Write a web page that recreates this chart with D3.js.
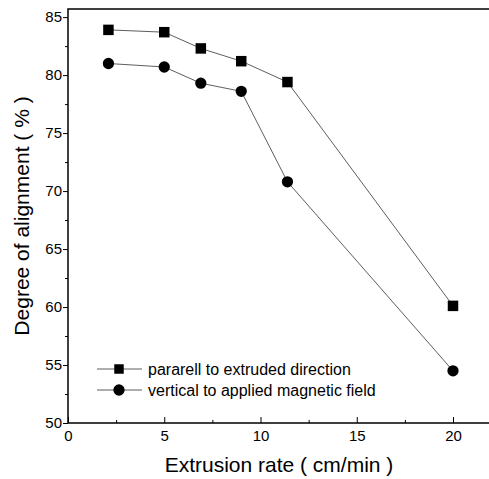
<!DOCTYPE html>
<html>
<head>
<meta charset="utf-8">
<script src="https://cdn.jsdelivr.net/npm/d3@7"></script>
<style>
body { margin: 0; background: #fff; }
</style>
</head>
<body>
<div id="chart"></div>
<script>
// data
var rates = [2.1, 5.0, 6.9, 9.0, 11.4, 20];
var parallel = [83.9, 83.7, 82.3, 81.2, 79.4, 60.1];
var vertical = [81.0, 80.7, 79.3, 78.6, 70.8, 54.5];
var seriesNames = ["pararell to extruded direction", "vertical to applied magnetic field"];
var xTicks = [0, 5, 10, 15, 20];
var yTicks = [50, 55, 60, 65, 70, 75, 80, 85];

var WIDTH = 489,
	HEIGHT = 479;

var xScale = d3.scaleLinear().domain([0, 22]).range([68, 491.5]);
var yScale = d3.scaleLinear().domain([50, 85.7]).range([423, 9]);

var svg = d3.select("#chart").append("svg")
	.attr("width", WIDTH)
	.attr("height", HEIGHT)
	.style("font-family", "Liberation Sans, Arial, sans-serif");

// frame
svg.append("rect")
	.attr("x", xScale(0))
	.attr("y", yScale(85.7))
	.attr("width", xScale(22) - xScale(0))
	.attr("height", yScale(50) - yScale(85.7))
	.attr("fill", "none")
	.attr("stroke", "#000")
	.attr("stroke-width", 1.5);

// x axis, ticks pointing inward
var xAxis = svg.append("g")
	.attr("transform", "translate(0," + yScale(50) + ")")
	.call(d3.axisBottom(xScale).tickValues(d3.range(0, 22.1, 2.5)).tickSize(-6)
		.tickFormat(function(d) { return xTicks.indexOf(d) >= 0 ? d : ""; }));
xAxis.select(".domain").remove();
xAxis.selectAll(".tick line").attr("stroke-width", 1)
	.attr("y2", function(d) { return xTicks.indexOf(d) >= 0 ? -6 : -3; });
xAxis.selectAll("text").attr("y", 7).attr("dy", "0.71em")
	.style("font-size", "15px").attr("fill", "#000");

// y axis, ticks pointing outward
var yAxis = svg.append("g")
	.attr("transform", "translate(" + xScale(0) + ",0)")
	.call(d3.axisLeft(yScale).tickValues(d3.range(50, 85.1, 2.5)).tickSize(5)
		.tickFormat(function(d) { return yTicks.indexOf(d) >= 0 ? d : ""; }));
yAxis.select(".domain").remove();
yAxis.selectAll(".tick line").attr("stroke-width", 1)
	.attr("x2", function(d) { return yTicks.indexOf(d) >= 0 ? -5 : -3; });
yAxis.selectAll("text").attr("x", -6)
	.style("font-size", "15px").attr("fill", "#000");

// axis titles
svg.append("text")
	.attr("x", 279)
	.attr("y", 472)
	.attr("text-anchor", "middle")
	.style("font-size", "21px")
	.text("Extrusion rate ( cm/min )");

svg.append("text")
	.attr("transform", "translate(29,216) rotate(-90)")
	.attr("text-anchor", "middle")
	.style("font-size", "21px")
	.text("Degree of alignment ( % )");

// lines
var lineGen = d3.line()
	.x(function(d) { return xScale(d[0]); })
	.y(function(d) { return yScale(d[1]); });

var series = [parallel, vertical];
series.forEach(function(vals, i) {
	var pts = rates.map(function(r, j) { return [r, vals[j]]; });
	svg.append("path")
		.datum(pts)
		.attr("d", lineGen)
		.attr("fill", "none")
		.attr("stroke", "#333")
		.attr("stroke-width", 0.8);
	var sym = d3.symbol().type(i == 0 ? d3.symbolSquare : d3.symbolCircle).size(i == 0 ? 110 : 100);
	svg.selectAll(".pt" + i)
		.data(pts)
		.enter().append("path")
		.attr("class", "pt" + i)
		.attr("transform", function(d) { return "translate(" + xScale(d[0]) + "," + yScale(d[1]) + ")"; })
		.attr("d", sym)
		.attr("fill", "#000");
});

// legend
seriesNames.forEach(function(name, i) {
	var ly = 369 + i * 21;
	svg.append("line")
		.attr("x1", 97).attr("x2", 142)
		.attr("y1", ly).attr("y2", ly)
		.attr("stroke", "#333").attr("stroke-width", 0.8);
	svg.append("path")
		.attr("transform", "translate(119," + ly + ")")
		.attr("d", d3.symbol().type(i == 0 ? d3.symbolSquare : d3.symbolCircle).size(i == 0 ? 90 : 100))
		.attr("fill", "#000");
	svg.append("text")
		.attr("x", 148)
		.attr("y", ly)
		.attr("dy", "0.35em")
		.style("font-size", "16px")
		.text(name);
});
</script>
</body>
</html>
